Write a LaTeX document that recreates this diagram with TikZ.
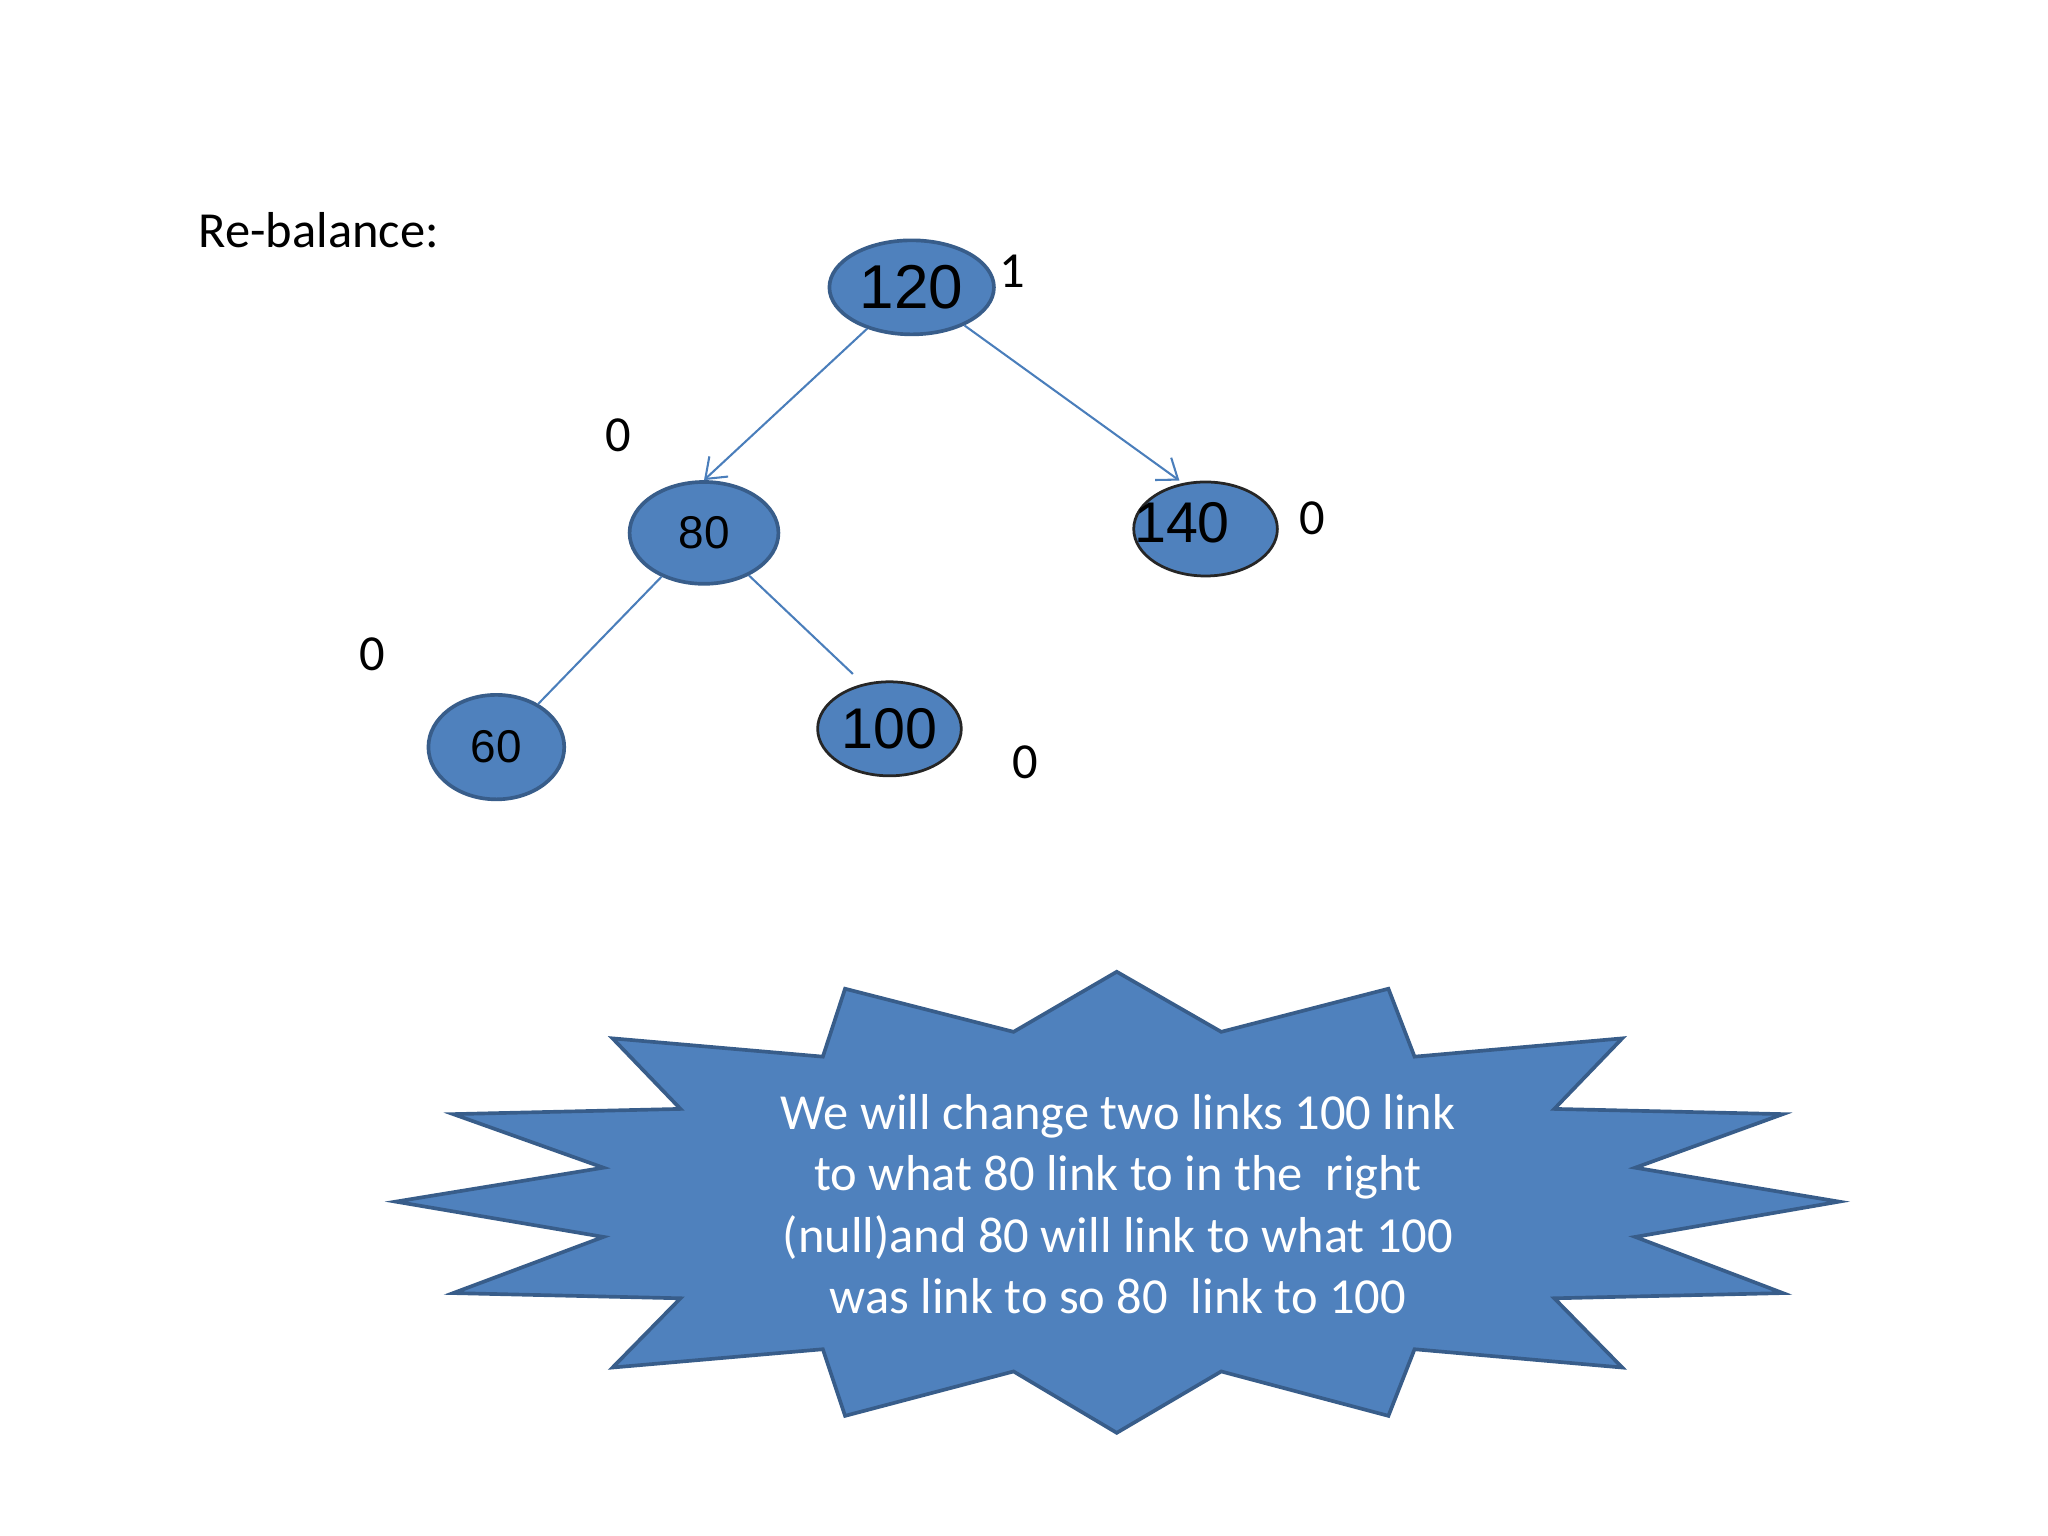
\documentclass[tikz,border=0pt]{standalone}
\usepackage{fontspec}
\setmainfont{Carlito}
\newfontfamily\arialf{Liberation Sans}
\usetikzlibrary{shapes.geometric,arrows.meta,calc}
\definecolor{bfill}{HTML}{4F81BD}
\definecolor{bdraw}{HTML}{385D8A}
\definecolor{edgec}{HTML}{4A7EBB}
\tikzset{
  tn/.style={ellipse,fill=bfill,draw=bdraw,line width=1.6pt,inner sep=0pt,font=\arialf},
  tnk/.style={tn,draw=black!85,line width=1.2pt},
  lbl/.style={font=\fontsize{22}{26}\selectfont},
  ed/.style={draw=edgec,line width=0.9pt},
  ea/.style={ed,-{Straight Barb[length=8pt,width=12pt]}},
}
\begin{document}
\begin{tikzpicture}[x=0.02cm,y=-0.02cm]
\useasboundingbox (0,0) rectangle (1568,1176);
\node[lbl,anchor=west] (title) at (146,176) {Re-balance:};
\node[tn,minimum width=2.52cm,minimum height=1.44cm,font=\arialf\fontsize{27}{30}\selectfont] (n120) at (698,220) {120};
\node[tn,minimum width=2.28cm,minimum height=1.56cm,font=\arialf\fontsize{20}{24}\selectfont] (n80) at (539,408) {80};
\node[tnk,minimum width=2.2cm,minimum height=1.44cm] (n140) at (923,405) {};
\node[font=\arialf\fontsize{25}{28}\selectfont] (t140) at (905,400) {140};
\node[tn,minimum width=2.08cm,minimum height=1.6cm,font=\arialf\fontsize{20}{24}\selectfont] (n60) at (380,572) {60};
\node[tnk,minimum width=2.2cm,minimum height=1.44cm,font=\arialf\fontsize{25}{28}\selectfont] (n100) at (681,558) {100};
\node[lbl] (b120) at (775,208) {1};
\node[lbl] (b80) at (473,333) {0};
\node[lbl] (b140) at (1005,397) {0};
\node[lbl] (b60) at (285,501) {0};
\node[lbl] (b100) at (785,584) {0};
\coordinate (e100) at (653,516);
\draw[ea] (n120) -- (n80.north);
\draw[ea] (n120) -- ($(n140.north)+(-20,0)$);
\draw[ed] (n80) -- (n60);
\draw[ed] (n80) -- (e100);
\draw[fill=bfill,draw=bdraw,line width=1.6pt]
 (855,744) -- (935,790) -- (1063,757) -- (1083,809) -- (1242,795) -- (1190,849) -- (1365,853) -- (1252,894) -- (1408,920) -- (1252,947) -- (1365,990) -- (1190,994) -- (1242,1047) -- (1083,1033) -- (1063,1084) -- (935,1050) -- (855,1097) -- (776,1050) -- (647,1084) -- (630,1033) -- (469,1047) -- (521,994) -- (347,990) -- (462,947) -- (303,920) -- (462,894) -- (347,853) -- (521,849) -- (469,795) -- (630,809) -- (647,757) -- (776,790) -- cycle;
\node[text=white,align=center,font=\fontsize{22}{26.7}\selectfont] (msg) at (856,922) {We will change two links 100 link\\to what 80 link to in the\ \ right\\(null)and 80 will link to what 100\\was link to so 80\ \ link to 100};
\end{tikzpicture}
\end{document}
